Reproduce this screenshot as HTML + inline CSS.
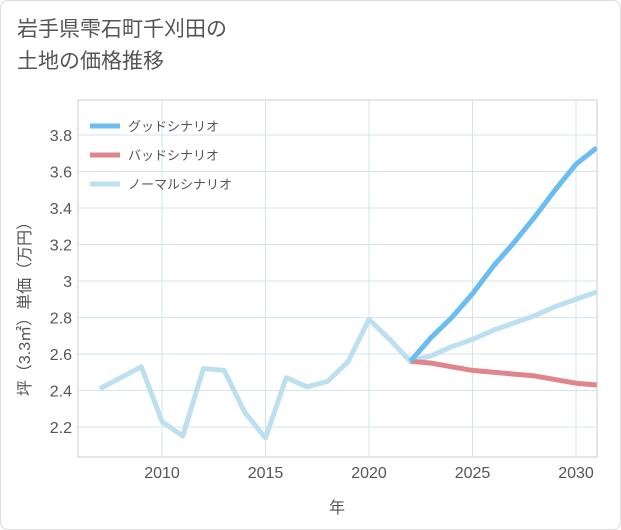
<!DOCTYPE html>
<html><head><meta charset="utf-8"><style>
html,body{margin:0;padding:0;background:#fff;}
body{width:621px;height:530px;overflow:hidden;font-family:"Liberation Sans","Noto Sans CJK JP",sans-serif;}
.card{position:absolute;left:0;top:0;width:619px;height:528px;border:1px solid #ddd;border-radius:8px;background:#fff;}
.title{position:absolute;left:17px;top:14px;font-size:21px;line-height:32px;color:#555;font-family:"Liberation Sans","Noto Sans CJK JP",sans-serif;}
</style></head><body>
<div class="card"></div>
<div class="title">岩手県雫石町千刈田の<br>土地の価格推移</div>
<svg id="chart" width="621" height="530" style="position:absolute;left:0;top:0"></svg>
<script>
const years=[2007,2008,2009,2010,2011,2012,2013,2014,2015,2016,2017,2018,2019,2020,2021,2022,2023,2024,2025,2026,2027,2028,2029,2030,2031];
const normal=[2.41,2.47,2.53,2.23,2.15,2.52,2.51,2.28,2.14,2.47,2.42,2.45,2.56,2.79,2.68,2.56,2.59,2.64,2.68,2.73,2.77,2.81,2.86,2.90,2.94];
const futureYears=[2022,2023,2024,2025,2026,2027,2028,2029,2030,2031];
const good=[2.56,2.69,2.80,2.93,3.08,3.21,3.35,3.50,3.64,3.73];
const bad=[2.56,2.55,2.53,2.51,2.50,2.49,2.48,2.46,2.44,2.43];
const xTicks=[2010,2015,2020,2025,2030];
const yTicks=[2.2,2.4,2.6,2.8,3,3.2,3.4,3.6,3.8];
const yLabels=["2.2","2.4","2.6","2.8","3","3.2","3.4","3.6","3.8"];
const legendNames=["グッドシナリオ","バッドシナリオ","ノーマルシナリオ"];
const legendColors=["#6bbcf0","#e0858c","#bde0f0"];

const L=78,R=597,T=100,B=457;
const x=v=>162+(v-2010)*(576-162)/20;
const y=v=>427-(v-2.2)*(427-135)/1.6;
const svg=document.getElementById('chart');
const NS='http://www.w3.org/2000/svg';
function mk(tag,attrs,parent){const e=document.createElementNS(NS,tag);for(const k in attrs)e.setAttribute(k,attrs[k]);(parent||svg).appendChild(e);return e;}

const bg=mk('rect',{x:L,y:T,width:R-L,height:B-T,fill:'#fff',stroke:'#ccc'});



xTicks.forEach(t=>{
  const g=mk('line',{x1:x(t),x2:x(t),y1:T,y2:B,stroke:'#d6e4ee'});
  
  
  const tx=mk('text',{x:x(t),y:478,'text-anchor':'middle','font-size':16,fill:'#555'});
  tx.textContent=t;
  
  
});
yTicks.forEach((t,i)=>{
  const g=mk('line',{x1:L,x2:R,y1:y(t),y2:y(t),stroke:'#d6e4ee'});
  
  
  const tx=mk('text',{x:72,y:y(t)+6,'text-anchor':'end','font-size':16,fill:'#555'});
  tx.textContent=yLabels[i];
  
  
});

const xt=mk('text',{x:337,y:513,'text-anchor':'middle','font-size':16,fill:'#555'});
xt.textContent='年';


const yt=mk('text',{x:0,y:0,'text-anchor':'middle','font-size':16,fill:'#555',transform:'translate(30,305) rotate(-90)'});
yt.textContent='坪（3.3㎡）単価（万円）';



const clip=mk('clipPath',{id:'c'});mk('rect',{x:L,y:T,width:R-L,height:B-T},clip);
function line(xs,vs,color,name){
  const d=xs.map((v,i)=>(i?'L':'M')+x(v)+','+y(vs[i])).join('');
  const p=mk('path',{d,fill:'none',stroke:color,'stroke-width':5,'stroke-linejoin':'round','clip-path':'url(#c)'});
  
  
}
line(years,normal,legendColors[2],'normal-scenario-line');
line(futureYears,bad,legendColors[1],'bad-scenario-line');
line(futureYears,good,legendColors[0],'good-scenario-line');

legendNames.forEach((n,i)=>{
  const ly=126+i*29;
  const l=mk('line',{x1:90,x2:120,y1:ly,y2:ly,stroke:legendColors[i],'stroke-width':5});
  
  
  const t=mk('text',{x:128,y:ly+5,'font-size':13,fill:'#555'});
  t.textContent=n;
  
  
});
</script>
</body></html>
